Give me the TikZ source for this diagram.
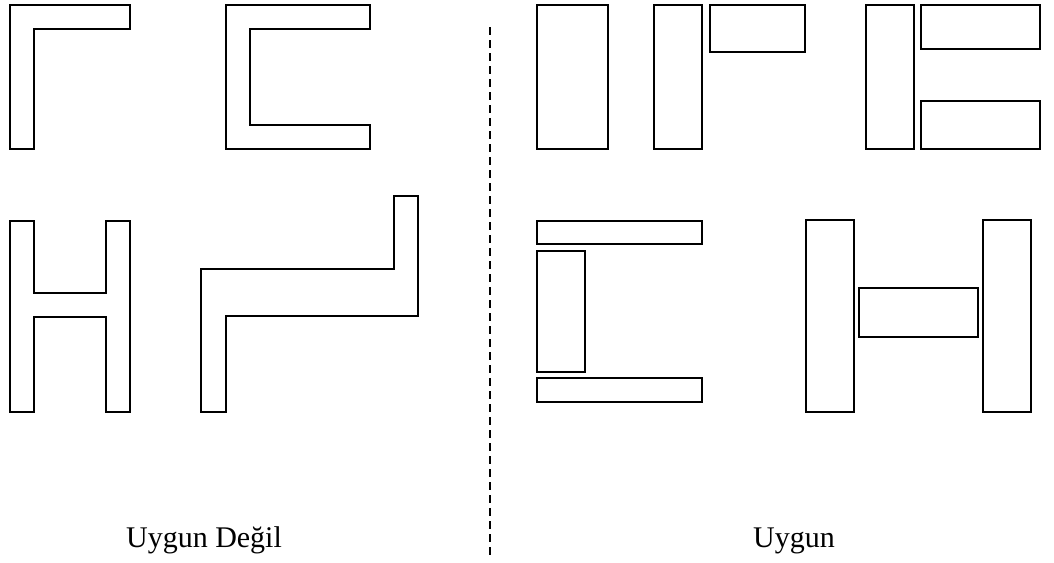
\documentclass[tikz,border=0pt]{standalone}
\usepackage{fontspec}
\setmainfont{Liberation Serif}
\begin{document}
\begin{tikzpicture}[x=1pt,y=-1pt,part/.style={draw,line width=2.3pt},label/.style={font=\fontsize{30}{34}\selectfont,inner sep=0pt,anchor=base}]
    \useasboundingbox (0,0) rectangle (1054,562);
    % uygun olmayan kesitler
    \draw[part] (10,5) -- (130,5) -- (130,29) -- (34,29) -- (34,149) -- (10,149) -- cycle;
    \draw[part] (226,5) -- (370,5) -- (370,29) -- (250,29) -- (250,125) -- (370,125) -- (370,149) -- (226,149) -- cycle;
    \draw[part] (10,221) -- (34,221) -- (34,293) -- (106,293) -- (106,221) -- (130,221) -- (130,412) -- (106,412) -- (106,317) -- (34,317) -- (34,412) -- (10,412) -- cycle;
    \draw[part] (201,412) -- (201,269) -- (394,269) -- (394,196) -- (418,196) -- (418,316) -- (226,316) -- (226,412) -- cycle;
    % ayirma cizgisi
    \draw[line width=2pt,dash pattern=on 8pt off 5pt] (490,27) -- (490,558);
    % uygun kesitler
    \draw[part] (537,5) rectangle (608,149);
    \draw[part] (654,5) rectangle (702,149);
    \draw[part] (710,5) rectangle (805,52);
    \draw[part] (866,5) rectangle (914,149);
    \draw[part] (921,5) rectangle (1040,49);
    \draw[part] (921,101) rectangle (1040,149);
    \draw[part] (537,221) rectangle (702,244);
    \draw[part] (537,251) rectangle (585,372);
    \draw[part] (537,378) rectangle (702,402);
    \foreach \x in {806,983} \draw[part] (\x,220) rectangle (\x+48,412);
    \draw[part] (859,288) rectangle (978,337);
    \node[label] (degil) at (204,547) {Uygun Değil};
    \node[label] (uygun) at (794,547) {Uygun};
\end{tikzpicture}
\end{document}
